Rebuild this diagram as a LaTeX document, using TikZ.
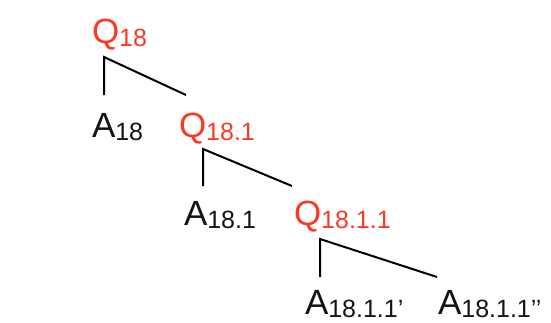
\documentclass[tikz,border=0pt]{standalone}
\usepackage{fontspec}
\setmainfont{Liberation Sans}
\definecolor{qred}{RGB}{250,58,36}
\definecolor{txtgray}{RGB}{20,20,20}
\newcommand\mylbl[2]{#1{\fontsize{25}{25}\selectfont\raisebox{-3pt}{#2}}}
\begin{document}
\begin{tikzpicture}[x=1pt,y=-1pt,
  lbl/.style={anchor=base west,inner sep=0pt,outer sep=0pt,font=\fontsize{35}{35}\selectfont},
  qlbl/.style={lbl,text=qred},
  albl/.style={lbl,text=txtgray},
  edge/.style={line width=2pt,black}]
\useasboundingbox (0,0) rectangle (551,322);
% labels
\node[qlbl] (q18) at (92,43) {\mylbl{Q}{18}};
\node[albl] (a18) at (92,137) {\mylbl{A}{18}};
\node[qlbl] (q181) at (179,137) {\mylbl{Q}{18.1}};
\node[albl] (a181) at (184,225) {\mylbl{A}{18.1}};
\node[qlbl] (q1811) at (294,225) {\mylbl{Q}{18.1.1}};
\node[albl] (a1811a) at (305,314) {\mylbl{A}{18.1.1’}};
\node[albl] (a1811b) at (438,314) {\mylbl{A}{18.1.1’’}};
% fork points
\coordinate (v1) at (104,57);
\coordinate (l1) at (104,95);
\coordinate (r1) at (186,95);
\coordinate (v2) at (203,149);
\coordinate (l2) at (203,186);
\coordinate (r2) at (292,186);
\coordinate (v3) at (320,239);
\coordinate (l3) at (320,277);
\coordinate (r3) at (437,277);
\draw[edge] (l1) -- (v1) -- (r1);
\draw[edge] (l2) -- (v2) -- (r2);
\draw[edge] (l3) -- (v3) -- (r3);
\end{tikzpicture}
\end{document}
